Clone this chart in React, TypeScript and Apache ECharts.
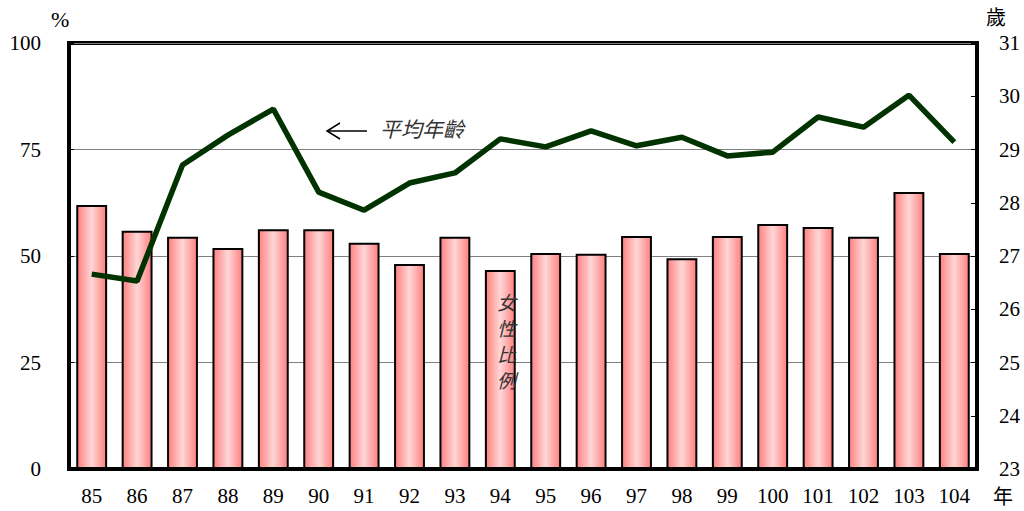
import React, { useEffect, useRef } from "react";
import * as echarts from "echarts";

const years = ["85","86","87","88","89","90","91","92","93","94","95","96","97","98","99","100","101","102","103","104"];
const femaleRatio = [62.0,55.9,54.5,51.9,56.3,56.3,53.1,48.1,54.5,46.7,50.7,50.5,54.7,49.5,54.7,57.5,56.8,54.5,65.0,50.7];
const avgAge = [26.66,26.53,28.71,29.27,29.76,28.20,27.86,28.37,28.56,29.20,29.05,29.35,29.07,29.23,28.88,28.95,29.61,29.42,30.02,29.14];
const leftTicks = [0, 25, 50, 75, 100];
const rightRange = [23, 31];
const verticalLabel = ["女", "性", "比", "例"];

export default function App() {
  const ref = useRef<HTMLDivElement>(null);
  useEffect(() => {
    if (!ref.current) return;
    const chart = echarts.init(ref.current, null, { renderer: "svg" });
    const serif = "serif";
    chart.setOption({
      animation: false,
      backgroundColor: "#ffffff",
      grid: {
        left: 69, right: 47, top: 43, bottom: 42,
        show: true, borderColor: "#000", borderWidth: 4, backgroundColor: "transparent",
      },
      xAxis: {
        type: "category",
        data: years,
        axisLine: { show: true, lineStyle: { color: "#000", width: 4 } },
        axisTick: { show: false },
        axisLabel: { fontFamily: serif, fontSize: 21, color: "#000", margin: 16 },
      },
      yAxis: [
        {
          type: "value",
          min: leftTicks[0], max: leftTicks[leftTicks.length - 1], interval: 25,
          axisLine: { show: true, lineStyle: { color: "#000", width: 4 } },
          axisTick: { show: true, inside: true, length: 5, lineStyle: { color: "#000", width: 1 } },
          axisLabel: { fontFamily: serif, fontSize: 21, color: "#000", margin: 28 },
          splitLine: { show: true, lineStyle: { color: "#808080", width: 1 } },
        },
        {
          type: "value",
          min: rightRange[0], max: rightRange[1], interval: 1,
          position: "right",
          axisLine: { show: true, lineStyle: { color: "#000", width: 4 } },
          axisTick: { show: true, inside: true, length: 6, lineStyle: { color: "#000", width: 1 } },
          axisLabel: { fontFamily: serif, fontSize: 21, color: "#000", margin: 22 },
          splitLine: { show: false },
        },
      ],
      series: [
        {
          type: "bar",
          data: femaleRatio,
          barWidth: "68%",
          yAxisIndex: 0,
          itemStyle: {
            color: new echarts.graphic.LinearGradient(0, 0, 1, 0, [
              { offset: 0, color: "#ff8080" },
              { offset: 0.5, color: "#ffd6d6" },
              { offset: 1, color: "#ff8080" },
            ]),
            borderColor: "#000",
            borderWidth: 2,
          },
          z: 2,
        },
        {
          type: "line",
          data: avgAge,
          yAxisIndex: 1,
          symbol: "none",
          lineStyle: { color: "#003300", width: 5.5 },
          z: 3,
        },
      ],
      graphic: [
        { type: "text", left: 51, top: 8, z: 100, style: { text: "%", font: `22px ${serif}`, fill: "#000" } },
        { type: "text", left: 986, top: 6, z: 100, style: { text: "歲", font: "20px 'Noto Sans CJK TC'", fill: "#000" } },
        { type: "text", left: 993, top: 485, z: 100, style: { text: "年", font: "20px 'Noto Sans CJK TC'", fill: "#000" } },
        { type: "line", z: 100, shape: { x1: 327, y1: 131, x2: 367, y2: 131 }, style: { stroke: "#000", lineWidth: 1.5 } },
        { type: "polyline", z: 100, shape: { points: [[340, 123], [327, 131], [340, 139]] }, style: { stroke: "#000", lineWidth: 1.5, fill: "none" } },
        { type: "text", left: 380, top: 117, z: 100, style: { text: "平均年齡", font: "italic 21px 'Noto Sans CJK TC'", fill: "#333" } },
        ...verticalLabel.map((ch, i) => ({
          type: "text", left: 497, top: 292 + i * 26, z: 100,
          style: { text: ch, font: "italic 19px 'Noto Sans CJK TC'", fill: "#333" },
        })),
      ],
    });
    return () => chart.dispose();
  }, []);
  return <div ref={ref} style={{ width: 1024, height: 511, position: "absolute", left: 0, top: 0 }} />;
}
